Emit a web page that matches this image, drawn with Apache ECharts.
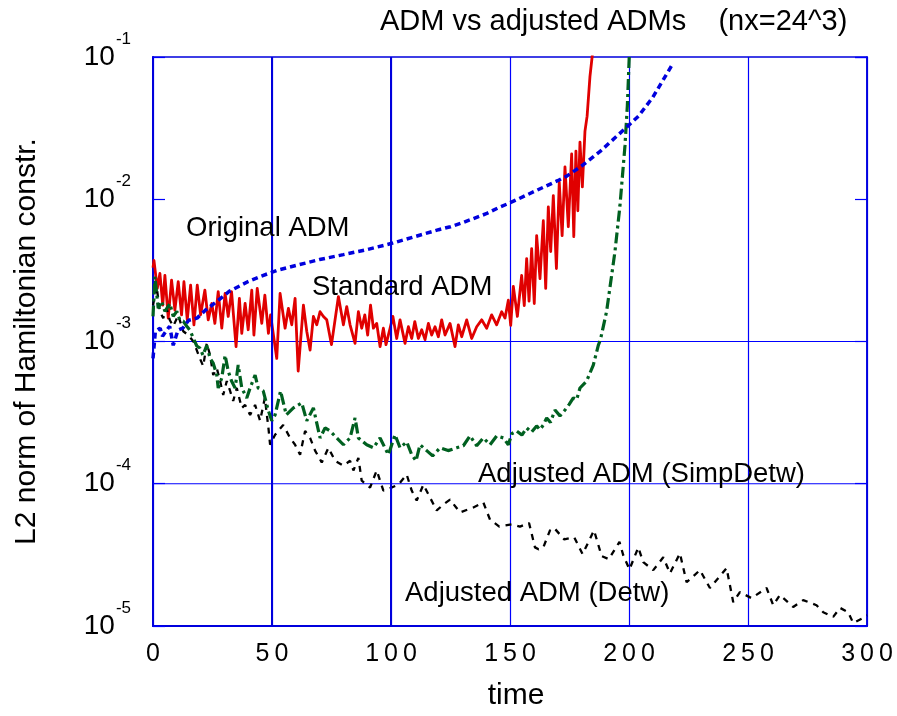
<!DOCTYPE html>
<html><head><meta charset="utf-8">
<script src="https://cdn.jsdelivr.net/npm/echarts@6/dist/echarts.min.js"></script>
<style>html,body{margin:0;padding:0;background:#fff}#c{width:897px;height:716px}</style>
</head><body><div id="c"></div>
<script>
const FONT = '"Liberation Sans", Arial, sans-serif';

const titleText = 'ADM vs adjusted ADMs    (nx=24^3)';
const xName = 'time';
const yName = 'L2 norm of Hamiltonian constr.';
const xTickValues = [0, 50, 100, 150, 200, 250, 300];
const yTickValues = [1e-5, 1e-4, 1e-3, 1e-2, 1e-1];
const thickXGrid = [50, 100];
const yGridValues = [1e-4, 1e-3];
const annotations = ['Original ADM', 'Standard ADM', 'Adjusted ADM (SimpDetw)', 'Adjusted ADM (Detw)'];

// Original ADM (blue)
const originalADM = [[0,7.6e-4],[1,1.18e-3],[3,1.24e-3],[4,1.09e-3],[7,1.28e-3],[8.5,9.4e-4],[10.5,1.20e-3],[12.5,1.24e-3],[15,1.41e-3],[18.5,1.46e-3],[22,1.66e-3],[27,1.92e-3],[32,2.25e-3],[40,2.64e-3],[45,2.86e-3],[52,3.16e-3],[60,3.42e-3],[70,3.77e-3],[80,4.08e-3],[90,4.43e-3],[100,4.88e-3],[110,5.46e-3],[120,6.11e-3],[125,6.41e-3],[130,6.84e-3],[140,7.91e-3],[146,8.85e-3],[150,9.44e-3],[160,1.13e-2],[170,1.35e-2],[174,1.46e-2],[180,1.71e-2],[188,2.18e-2],[199,3.21e-2],[204,3.84e-2],[210,5.21e-2],[218.5,9.02e-2]];

// Standard ADM (red)
const standardADM = [[0,3.3e-3],[0.4,3.72e-3],[1.8,2.36e-3],[2.9,3.01e-3],[4.1,1.80e-3],[5,2.92e-3],[6.4,1.46e-3],[7.8,2.70e-3],[9.2,1.66e-3],[10.6,2.63e-3],[12,1.54e-3],[13,2.63e-3],[14.4,1.42e-3],[15.8,2.49e-3],[17.2,1.31e-3],[18.6,2.49e-3],[20,1.54e-3],[21.8,2.30e-3],[23.2,1.42e-3],[24.7,1.85e-3],[26,1.34e-3],[27.4,2.24e-3],[28.9,1.24e-3],[30.3,2.18e-3],[31.6,1.50e-3],[33,2.24e-3],[34.9,9.2e-4],[36.3,2.01e-3],[37.3,1.14e-3],[38.7,1.85e-3],[40,1.21e-3],[41.5,2.30e-3],[42.4,1.11e-3],[43.8,2.36e-3],[45.7,1.34e-3],[47,2.12e-3],[48.5,1.14e-3],[49.4,1.54e-3],[52,7.6e-4],[53.4,2.18e-3],[55.5,1.24e-3],[56.9,1.71e-3],[58.3,1.31e-3],[59.7,2.01e-3],[61,6.2e-4],[63.2,1.80e-3],[64.6,1.18e-3],[66,8.7e-4],[67.4,1.50e-3],[68.8,1.31e-3],[70.2,1.62e-3],[71.6,1.50e-3],[73,1.42e-3],[75,9.5e-4],[77.9,2.07e-3],[80,1.31e-3],[81.4,1.76e-3],[82.8,1.31e-3],[84.9,9.7e-4],[86.3,1.62e-3],[87.7,1.24e-3],[89,1.54e-3],[90.2,1.11e-3],[91.4,1.80e-3],[92.6,1.24e-3],[94,1.34e-3],[95.4,9.2e-4],[96.8,1.24e-3],[97.9,9.5e-4],[99.6,1.24e-3],[100.8,1.50e-3],[102.4,1.05e-3],[103.8,1.42e-3],[105.9,9.7e-4],[107.3,1.27e-3],[108.7,1.05e-3],[110,1.38e-3],[111.5,1.05e-3],[112.9,1.21e-3],[114.3,1.03e-3],[115.7,1.34e-3],[117.1,1.11e-3],[118.5,1.27e-3],[119.9,1.08e-3],[121.3,1.42e-3],[122.7,1.11e-3],[124.8,1.34e-3],[126.9,9.2e-4],[128.3,1.31e-3],[129.7,1.08e-3],[131.8,1.42e-3],[133.9,1.05e-3],[136,1.27e-3],[138.1,1.42e-3],[140.2,1.24e-3],[142.3,1.54e-3],[144.4,1.31e-3],[146.5,1.62e-3],[147.9,1.46e-3],[149.3,1.95e-3],[150.3,1.30e-3],[151.4,2.44e-3],[153.1,1.50e-3],[154.9,2.91e-3],[156,1.79e-3],[157,3.83e-3],[158,1.92e-3],[159.1,4.50e-3],[160.2,1.85e-3],[161.2,5.55e-3],[162.6,2.77e-3],[164,7.06e-3],[165,2.36e-3],[166.1,8.85e-3],[167.1,4.29e-3],[168.2,1.06e-2],[169.5,3.26e-3],[170.7,1.32e-2],[171.9,5.55e-3],[173.1,1.69e-2],[174.5,6.41e-3],[175.9,2.08e-2],[176.8,5.46e-3],[177.7,2.18e-2],[178.5,8.30e-3],[179.4,2.52e-2],[180.4,1.22e-2],[181.5,3.01e-2],[182.4,3.84e-2],[183.6,7.3e-2],[184.5,1.0e-1],[185.2,1.3e-1]];

// Adjusted ADM (SimpDetw) (green)
const simpDetw = [[0,1.5e-3],[0.8,2.86e-3],[2.2,1.71e-3],[3.6,1.92e-3],[5,1.63e-3],[7.1,1.85e-3],[8.5,1.50e-3],[10,1.63e-3],[11.3,1.41e-3],[12.7,1.39e-3],[14.2,1.28e-3],[15.5,1.20e-3],[17,1.05e-3],[18.4,9.3e-4],[19.7,9.0e-4],[21,8.0e-4],[22.6,9.4e-4],[24,7.6e-4],[25.3,7.05e-4],[26.8,5.81e-4],[27.4,4.71e-4],[28.9,5.54e-4],[30.3,8.0e-4],[31.6,6.2e-4],[33,5.27e-4],[34.5,4.71e-4],[35.8,6.83e-4],[37.3,4.71e-4],[39.4,4.01e-4],[40.8,4.71e-4],[42.9,5.81e-4],[44.2,4.71e-4],[46.3,4.49e-4],[48.5,3.25e-4],[49.9,2.77e-4],[51.3,3.05e-4],[53.6,4.49e-4],[56,3.05e-4],[59,3.41e-4],[62.5,3.70e-4],[64.6,2.77e-4],[67.4,3.41e-4],[70.2,2.10e-4],[72.3,2.47e-4],[74.4,2.35e-4],[77.2,2.10e-4],[80,1.88e-4],[82.8,2.10e-4],[84.9,2.90e-4],[86.3,2.10e-4],[89.8,1.88e-4],[92.6,1.79e-4],[95.4,2.10e-4],[98.9,1.60e-4],[101.7,2.21e-4],[103.8,1.79e-4],[106.6,1.97e-4],[108.7,1.60e-4],[110.5,1.45e-4],[112.2,1.88e-4],[115,1.71e-4],[117.5,1.57e-4],[120.6,1.79e-4],[124,1.71e-4],[127.6,1.79e-4],[130.4,1.85e-4],[133.2,2.17e-4],[136,1.85e-4],[138.8,2.10e-4],[141.6,1.88e-4],[144.4,2.17e-4],[147.2,2.10e-4],[149.3,1.88e-4],[150.8,2.25e-4],[152.8,2.35e-4],[155,2.2e-4],[157,2.47e-4],[159,2.3e-4],[161.2,2.55e-4],[162.6,2.4e-4],[164,2.59e-4],[165.4,2.90e-4],[167,2.7e-4],[168.9,3.30e-4],[171,3.0e-4],[173.1,3.30e-4],[174.8,3.6e-4],[176.6,4.01e-4],[178,3.9e-4],[179.4,4.71e-4],[182.2,5.27e-4],[185,6.83e-4],[187.1,9.4e-4],[188,1.03e-3],[190.6,1.63e-3],[194.1,4.29e-3],[196.2,9.0e-3],[198.3,2.37e-2],[199.3,4.52e-2],[200.1,1.0e-1],[200.5,1.3e-1]];

// Adjusted ADM (Detw) (black)
const detw = [[0,1.8e-3],[1.5,2.44e-3],[2.9,1.63e-3],[4.3,1.46e-3],[5.7,1.71e-3],[7.1,1.41e-3],[8.5,1.28e-3],[10.6,1.53e-3],[12.7,1.18e-3],[14.8,1.11e-3],[17,1.0e-3],[19.7,7.6e-4],[21.1,6.71e-4],[22.6,9.7e-4],[24,8.0e-4],[25.3,5.81e-4],[26.8,6.5e-4],[28.2,5.27e-4],[29.5,4.21e-4],[31,5.27e-4],[32.4,4.49e-4],[33.7,3.82e-4],[35.2,4.71e-4],[37.3,3.41e-4],[38.7,3.58e-4],[40.8,3.05e-4],[42.9,3.58e-4],[45,2.77e-4],[47,4.01e-4],[48.5,2.47e-4],[49.2,1.88e-4],[51.3,2.21e-4],[54.7,2.59e-4],[57.6,2.10e-4],[59.7,1.88e-4],[61.8,1.60e-4],[63.9,2.35e-4],[66,2.10e-4],[68.1,1.71e-4],[70.9,1.41e-4],[73.7,1.79e-4],[76.5,1.45e-4],[80,1.34e-4],[82.8,1.45e-4],[84.2,1.24e-4],[86.3,1.52e-4],[87.7,1.05e-4],[91.2,9.4e-5],[94,1.24e-4],[96.8,8.95e-5],[100.3,9.4e-5],[103.1,9.86e-5],[106.6,1.16e-4],[108.7,8.95e-5],[110.8,7.62e-5],[113.6,9.86e-5],[116.4,8.0e-5],[119.2,6.49e-5],[122,7.14e-5],[124.8,7.74e-5],[129,6.28e-5],[134.6,6.81e-5],[138.8,7.38e-5],[141.6,5.6e-5],[145.5,5.0e-5],[150.7,5.18e-5],[154.2,5.0e-5],[158,5.3e-5],[160.5,3.57e-5],[162,3.46e-5],[164,3.57e-5],[166.8,4.70e-5],[168.5,4.9e-5],[172.8,4.06e-5],[177,4.2e-5],[180.5,3.2e-5],[185.3,4.7e-5],[188.5,3.1e-5],[191.5,2.95e-5],[196,3.9e-5],[197.6,3.14e-5],[200.2,2.5e-5],[203.9,3.57e-5],[206,2.81e-5],[210.2,2.47e-5],[214.4,3.04e-5],[217.2,2.35e-5],[221.4,3.24e-5],[224.2,2.03e-5],[229.8,2.47e-5],[234,1.85e-5],[241,2.55e-5],[243.8,1.47e-5],[246.6,1.73e-5],[251.5,1.57e-5],[257.8,1.85e-5],[260.6,1.40e-5],[263.4,1.65e-5],[269,1.36e-5],[273.2,1.52e-5],[278.8,1.40e-5],[281.6,1.25e-5],[285.8,1.16e-5],[288.7,1.34e-5],[292.1,1.25e-5],[294.2,1.05e-5],[298.4,1.14e-5],[300,1.19e-5]];

const BLUE = '#0000dd';
const GRIDBLUE = '#0000ff';
const chart = echarts.init(document.getElementById('c'), null, {renderer: 'canvas'});

const yRich = {
  b: {fontSize: 28, fontFamily: FONT, color: '#000', lineHeight: 53},
  s: {fontSize: 17, fontFamily: FONT, color: '#000', lineHeight: 12, verticalAlign: 'top', padding: [0, 0, 0, 1]}
};

const annPos = [[186, 214], [312, 273], [478, 460], [405, 579]];

// horizontal grid lines drawn as plain line series across the x range
const yGridSeries = yGridValues.map(v => ({
  type: 'line', data: [[xTickValues[0], v], [xTickValues[xTickValues.length - 1], v]],
  symbol: 'none', silent: true, z: 1, animation: false,
  lineStyle: {color: GRIDBLUE, width: 1.2, type: 'solid'}
}));

const option = {
  animation: false,
  backgroundColor: '#fff',
  title: {
    text: titleText, left: 380, top: 7, padding: 0,
    textStyle: {fontSize: 29, fontWeight: 'normal', fontFamily: FONT, color: '#000'}
  },
  grid: {left: 153, right: 30, top: 57, bottom: 87, show: true, borderColor: BLUE, borderWidth: 1.5, backgroundColor: 'transparent'},
  xAxis: {
    type: 'value', min: 0, max: 300, interval: 50,
    axisLine: {show: true, onZero: false, lineStyle: {color: BLUE, width: 2}},
    axisTick: {show: false},
    splitLine: {show: true, lineStyle: {color: GRIDBLUE, width: 1.2}},
    axisLabel: {
      color: '#000', fontSize: 25, fontFamily: FONT, margin: 16,
      formatter: v => xTickValues.includes(v) ? String(v).split('').join('\u2009') : ''
    },
    name: xName, nameLocation: 'middle', nameGap: 55,
    nameTextStyle: {fontSize: 30, color: '#000', fontFamily: FONT, padding: [0, 0, 0, 12]}
  },
  yAxis: [{
    type: 'log', logBase: 10, min: 1e-5, max: 1e-1,
    axisLine: {show: true, onZero: false, lineStyle: {color: BLUE, width: 2}},
    axisTick: {show: true, inside: true, length: 12, lineStyle: {color: GRIDBLUE, width: 1.2}},
    minorTick: {show: false},
    splitLine: {show: false},
    axisLabel: {
      margin: 22,
      formatter: v => {
        const e = Math.round(Math.log10(v));
        return yTickValues.some(t => Math.abs(Math.log10(t) - e) < 1e-6) ? '{b|10}{s|' + e + '}' : '';
      },
      rich: yRich
    },
    name: yName, nameLocation: 'middle', nameGap: 111,
    nameTextStyle: {fontSize: 30, color: '#000', fontFamily: FONT}
  }, {
    type: 'log', logBase: 10, min: 1e-5, max: 1e-1, position: 'right',
    axisLine: {show: true, onZero: false, lineStyle: {color: BLUE, width: 1.5}},
    axisTick: {show: true, inside: true, length: 12, lineStyle: {color: GRIDBLUE, width: 1.2}},
    axisLabel: {show: false},
    splitLine: {show: false}
  }],
  graphic: annotations.map((t, i) => ({
    type: 'text', left: annPos[i][0], top: annPos[i][1], z: 10,
    style: {text: t, fill: '#000', font: '27.5px ' + FONT}
  })),
  series: yGridSeries.concat([
    {
      type: 'line', data: [], z: 1, silent: true,
      markLine: {
        symbol: 'none', silent: true, animation: false, label: {show: false},
        data: thickXGrid.map(x => ({xAxis: x, lineStyle: {color: BLUE, width: 2, type: 'solid'}}))
      }
    },
    {
      name: 'Standard ADM', type: 'line', data: standardADM, symbol: 'none', z: 3, clip: true,
      lineStyle: {color: '#e00000', width: 2.8, join: 'round'}
    },
    {
      name: 'Adjusted ADM (Detw)', type: 'line', data: detw, symbol: 'none', z: 4, clip: true,
      lineStyle: {color: '#000000', width: 2.3, type: [6, 6], cap: 'butt'}
    },
    {
      name: 'Adjusted ADM (SimpDetw)', type: 'line', data: simpDetw, symbol: 'none', z: 5, clip: true,
      lineStyle: {color: '#006020', width: 3.2, type: [11, 4, 3, 4], cap: 'butt'}
    },
    {
      name: 'Original ADM', type: 'line', data: originalADM, symbol: 'none', z: 6, clip: true,
      lineStyle: {color: '#0000dd', width: 3.5, type: [6, 4], cap: 'butt'}
    }
  ])
};
chart.setOption(option);
</script>
</body></html>
